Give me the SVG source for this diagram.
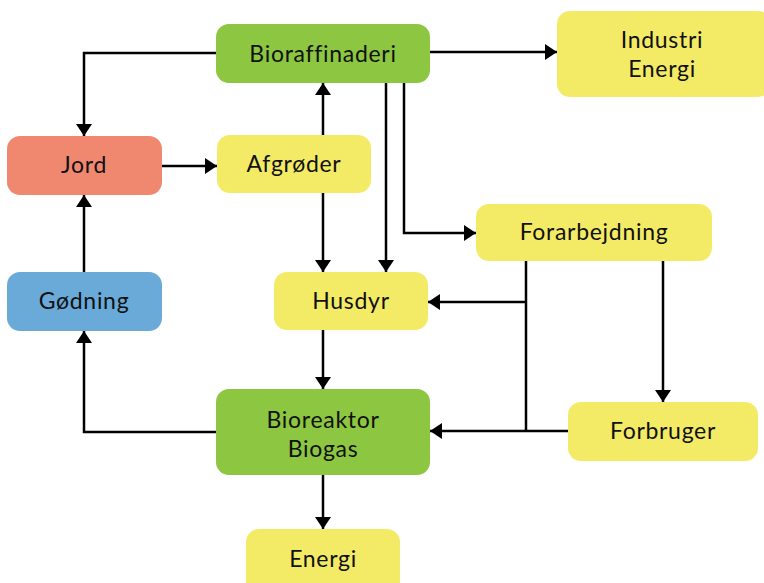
<svg xmlns="http://www.w3.org/2000/svg" width="764" height="583" viewBox="0 0 764 583">
<style>
.t{font-family:"Lato","Liberation Sans",sans-serif;font-size:23px;letter-spacing:0.7px;fill:#111;text-anchor:middle;}
.g{fill:#8DC640;}
.y{fill:#F3EB66;}
.r{fill:#F08870;}
.b{fill:#6AAAD8;}
.c{fill:none;stroke:#000;stroke-width:2.5;marker-end:url(#ah);}
.n{fill:none;stroke:#000;stroke-width:2.5;}
</style>
<defs>
<marker id="ah" markerUnits="userSpaceOnUse" markerWidth="14" markerHeight="18" refX="12" refY="8" orient="auto">
<path d="M0,0 L12,8 L0,16 Z" fill="#000"/>
</marker>
</defs>
<rect width="764" height="583" fill="#fff"/>
<g id="connectors">
<path class="c" d="M430,52 H557"/>
<path class="c" d="M216,53 H84 V136"/>
<path class="c" d="M162,166 H217"/>
<path class="c" d="M84,272 V195"/>
<path class="c" d="M323,135 V83"/>
<path class="c" d="M323,193 V272"/>
<path class="c" d="M386,83 V272"/>
<path class="c" d="M404,83 V233 H476"/>
<path class="n" d="M526,261 V431"/>
<path class="c" d="M526,302 H428"/>
<path class="c" d="M663,261 V402"/>
<path class="c" d="M568,431 H430"/>
<path class="c" d="M323,330 V389"/>
<path class="c" d="M216,432 H84 V331"/>
<path class="c" d="M323,475 V529"/>
</g>
<g id="bioraffinaderi"><rect class="g" x="216" y="24" width="214" height="59" rx="13"/><text class="t" x="323" y="62">Bioraffinaderi</text></g>
<g id="industri"><rect class="y" x="557" y="11" width="214" height="86" rx="13"/><text class="t" x="662" y="48">Industri</text><text class="t" x="662" y="77">Energi</text></g>
<g id="jord"><rect class="r" x="7" y="136" width="155" height="59" rx="13"/><text class="t" x="84" y="173">Jord</text></g>
<g id="afgroder"><rect class="y" x="217" y="135" width="154" height="58" rx="13"/><text class="t" x="294" y="172">Afgrøder</text></g>
<g id="godning"><rect class="b" x="7" y="272" width="155" height="59" rx="13"/><text class="t" x="84" y="309">Gødning</text></g>
<g id="husdyr"><rect class="y" x="274" y="272" width="154" height="58" rx="13"/><text class="t" x="351" y="309">Husdyr</text></g>
<g id="forarbejdning"><rect class="y" x="476" y="204" width="236" height="57" rx="13"/><text class="t" x="594" y="240">Forarbejdning</text></g>
<g id="forbruger"><rect class="y" x="568" y="402" width="190" height="59" rx="13"/><text class="t" x="663" y="439">Forbruger</text></g>
<g id="bioreaktor"><rect class="g" x="216" y="389" width="214" height="86" rx="13"/><text class="t" x="323" y="428">Bioreaktor</text><text class="t" x="323" y="457">Biogas</text></g>
<g id="energi"><rect class="y" x="246" y="529" width="154" height="70" rx="13"/><text class="t" x="323" y="567">Energi</text></g>
</svg>
